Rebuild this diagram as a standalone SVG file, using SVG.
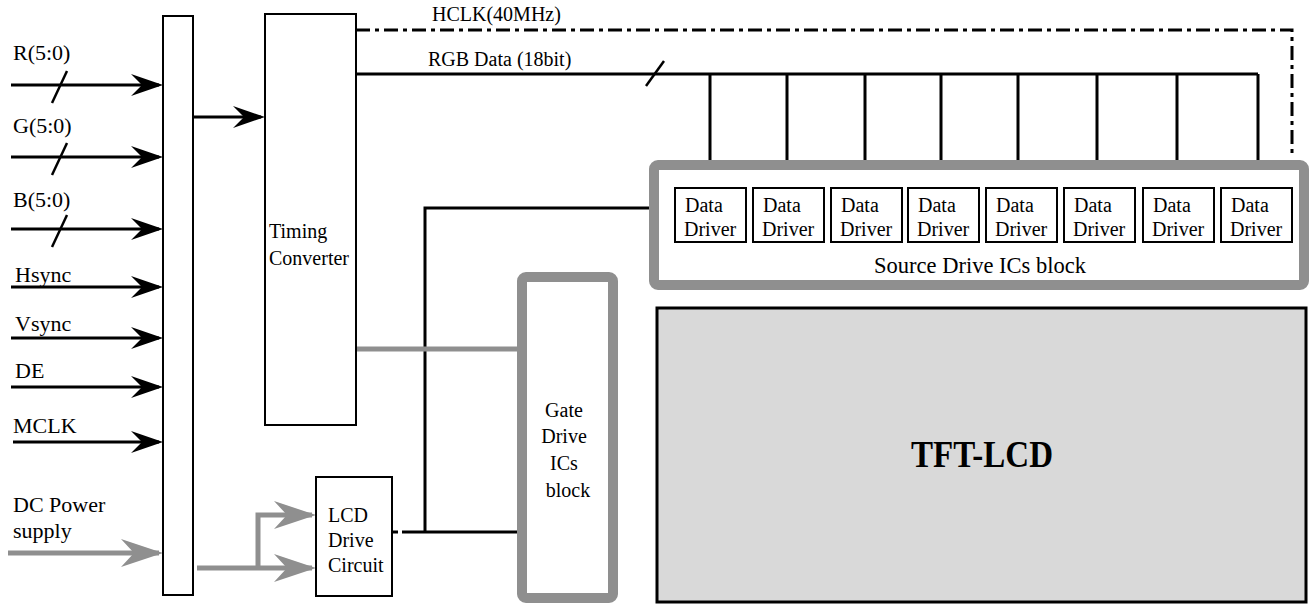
<svg xmlns="http://www.w3.org/2000/svg" width="1310" height="604" viewBox="0 0 1310 604">
<style>
text{font-family:"Liberation Serif","Times New Roman",serif;font-size:20px;fill:#000}
text.lbl{font-size:22px}
text.src{font-size:22.5px}
text.tft{font-size:38px;font-weight:bold}
.box{fill:#fff;stroke:#000;stroke-width:2}
.gblk{fill:#fff;stroke:#8f8f8f;stroke-width:10}
.w{stroke:#000;stroke-width:3;fill:none}
.g{stroke:#8f8f8f;stroke-width:5;fill:none}
.sl{stroke:#000;stroke-width:2.5}
.dd{stroke:#000;stroke-width:3;fill:none;stroke-dasharray:14 5 4 5}
</style>
<defs>
<marker id="ab" markerUnits="userSpaceOnUse" viewBox="-34 -12 36 24" refX="-4" refY="0" markerWidth="36" markerHeight="24" orient="auto">
<path d="M0,0 L-32,-11 L-21,0 L-32,11 Z" fill="#000"/>
</marker>
<marker id="ag" markerUnits="userSpaceOnUse" viewBox="-44 -15 46 30" refX="-4" refY="0" markerWidth="46" markerHeight="30" orient="auto">
<path d="M0,0 L-42,-14 L-29,0 L-42,14 Z" fill="#8f8f8f"/>
</marker>
</defs>

<g id="connectors">
<line class="w" x1="11" y1="85" x2="159" y2="85" marker-end="url(#ab)"/>
<line class="sl" x1="52" y1="103" x2="67" y2="71"/>
<line class="w" x1="11" y1="157" x2="159" y2="157" marker-end="url(#ab)"/>
<line class="sl" x1="52" y1="175" x2="67" y2="143"/>
<line class="w" x1="11" y1="229" x2="159" y2="229" marker-end="url(#ab)"/>
<line class="sl" x1="52" y1="247" x2="67" y2="215"/>
<line class="w" x1="11" y1="287" x2="159" y2="287" marker-end="url(#ab)"/>
<line class="w" x1="11" y1="338" x2="159" y2="338" marker-end="url(#ab)"/>
<line class="w" x1="11" y1="387" x2="159" y2="387" marker-end="url(#ab)"/>
<line class="w" x1="13" y1="442" x2="159" y2="442" marker-end="url(#ab)"/>
<line class="g" x1="8" y1="553" x2="159" y2="553" marker-end="url(#ag)"/>
<line class="w" x1="193" y1="117" x2="261" y2="117" marker-end="url(#ab)"/>
<path class="dd" d="M356,30 H1292 V158"/>
<path class="w" d="M356,74 H1258"/>
<line class="sl" x1="646" y1="86" x2="664" y2="61"/>
<path class="w" d="M710,74 V188 M787,74 V188 M865,74 V188 M941,74 V188 M1018,74 V188 M1097,74 V188 M1177,74 V188 M1258,74 V188"/>
<path class="w" d="M675,208 H425 V532 M402,532 H520"/>
<line class="w" x1="393" y1="532" x2="398" y2="532"/>
<line class="g" x1="356" y1="349" x2="520" y2="349"/>
<path class="g" d="M197,568 H312" marker-end="url(#ag)"/>
<path class="g" d="M258,570 V515 H312" marker-end="url(#ag)"/>
</g>

<g id="input-bar"><rect class="box" x="163" y="16" width="30" height="579"/></g>

<g id="labels">
<text class="lbl" x="13" y="60">R(5:0)</text>
<text class="lbl" x="13" y="133">G(5:0)</text>
<text class="lbl" x="13" y="207">B(5:0)</text>
<text class="lbl" x="15" y="282">Hsync</text>
<text class="lbl" x="15" y="331">Vsync</text>
<text class="lbl" x="15" y="378">DE</text>
<text class="lbl" x="13" y="433">MCLK</text>
<text class="lbl" x="13" y="512">DC Power</text>
<text class="lbl" x="13" y="538">supply</text>
<text x="432" y="21">HCLK(40MHz)</text>
<text x="428" y="66">RGB Data (18bit)</text>
</g>

<g id="timing-converter">
<rect class="box" x="265" y="14" width="91" height="411"/>
<text x="269" y="238">Timing</text>
<text x="269" y="265">Converter</text>
</g>

<g id="source-drive-block">
<rect class="gblk" x="654" y="165" width="650" height="120" rx="4"/>
<text class="src" x="980" y="273" text-anchor="middle">Source Drive ICs block</text>
</g>

<g id="data-drivers">
<g id="dd1"><rect class="box" x="675" y="188" width="71" height="54"/><text x="685" y="212">Data</text><text x="684" y="236">Driver</text></g>
<g id="dd2"><rect class="box" x="753" y="188" width="71" height="54"/><text x="763" y="212">Data</text><text x="762" y="236">Driver</text></g>
<g id="dd3"><rect class="box" x="831" y="188" width="71" height="54"/><text x="841" y="212">Data</text><text x="840" y="236">Driver</text></g>
<g id="dd4"><rect class="box" x="908" y="188" width="71" height="54"/><text x="918" y="212">Data</text><text x="917" y="236">Driver</text></g>
<g id="dd5"><rect class="box" x="986" y="188" width="71" height="54"/><text x="996" y="212">Data</text><text x="995" y="236">Driver</text></g>
<g id="dd6"><rect class="box" x="1064" y="188" width="71" height="54"/><text x="1074" y="212">Data</text><text x="1073" y="236">Driver</text></g>
<g id="dd7"><rect class="box" x="1143" y="188" width="71" height="54"/><text x="1153" y="212">Data</text><text x="1152" y="236">Driver</text></g>
<g id="dd8"><rect class="box" x="1221" y="188" width="71" height="54"/><text x="1231" y="212">Data</text><text x="1230" y="236">Driver</text></g>
</g>

<g id="gate-drive-block">
<rect class="gblk" x="522" y="277" width="91" height="321" rx="4"/>
<text x="564" y="417" text-anchor="middle">Gate</text>
<text x="564" y="443" text-anchor="middle">Drive</text>
<text x="564" y="470" text-anchor="middle">ICs</text>
<text x="568" y="497" text-anchor="middle">block</text>
</g>

<g id="lcd-drive-circuit">
<rect class="box" x="316" y="477" width="76" height="119"/>
<text x="328" y="522">LCD</text>
<text x="328" y="547">Drive</text>
<text x="328" y="572">Circuit</text>
</g>

<g id="tft-lcd">
<rect x="657" y="308" width="649" height="294" fill="#d9d9d9" stroke="#000" stroke-width="3"/>
<text class="tft" x="982" y="467" text-anchor="middle" textLength="142" lengthAdjust="spacingAndGlyphs">TFT-LCD</text>
</g>
</svg>
